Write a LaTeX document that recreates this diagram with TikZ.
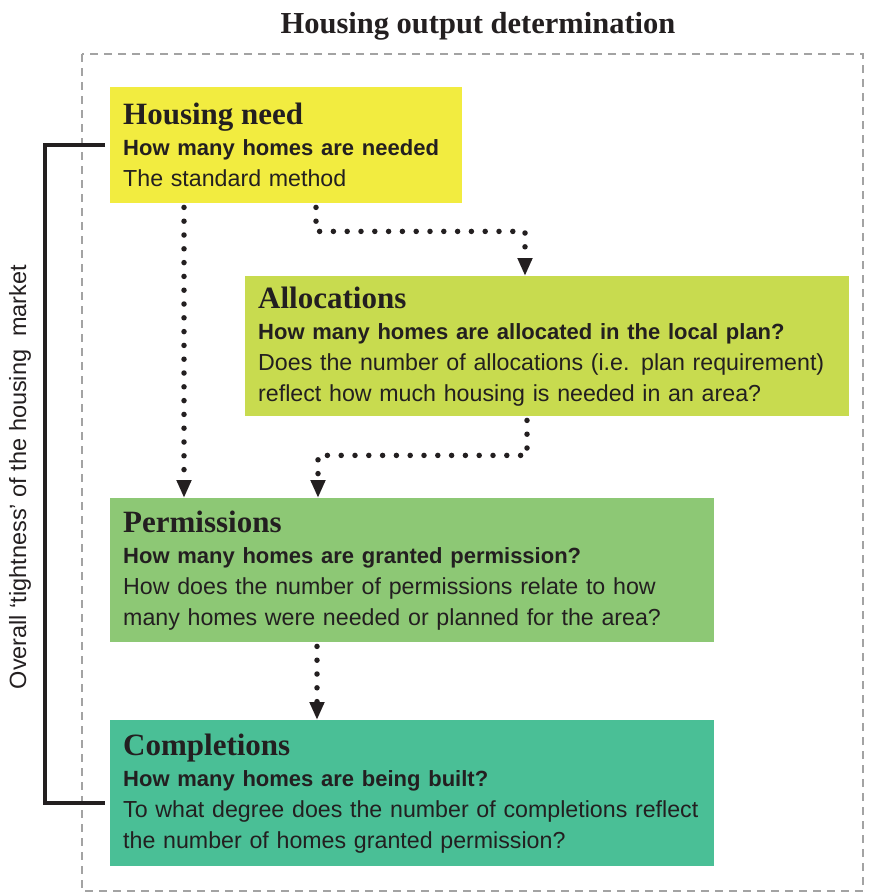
\documentclass[tikz,border=0pt]{standalone}
\usepackage{fontspec}
\setmainfont{Liberation Serif}
\setsansfont{Liberation Sans}
\usetikzlibrary{calc}
\usetikzlibrary{arrows.meta}
\usetikzlibrary{positioning}
\definecolor{ink}{HTML}{231F20}
\definecolor{framegray}{HTML}{A3A3A3}
\definecolor{needcol}{HTML}{F2EC40}
\definecolor{alloccol}{HTML}{C8DB4F}
\definecolor{permcol}{HTML}{8DC875}
\definecolor{donecol}{HTML}{4ABF96}
\newcommand{\stagehead}[1]{{\rmfamily\bfseries\fontsize{31}{31}\selectfont #1}}
\newcommand{\stageq}[1]{{\bfseries\fontsize{22}{31}\selectfont #1}}
\tikzset{
  stage/.style = {rectangle, anchor=north west, inner xsep=13pt, inner ysep=0pt,
    align=left, text=ink, font=\sffamily\fontsize{23.2}{31}\selectfont},
  heading/.style = {text=ink, font=\rmfamily\bfseries\fontsize{30.5}{32}\selectfont},
  flow/.style = {ink, line width=5.5pt, line cap=round, dash pattern=on 0pt off 13.8pt,
    -{Triangle[length=18pt,width=14pt]}},
  bracket/.style = {ink, line width=4.5pt},
  frame/.style = {draw=framegray, line width=2.5pt, dash pattern=on 8pt off 6pt}
}
\begin{document}
\begin{tikzpicture}[x=1pt, y=-1pt]
\useasboundingbox (0,0) rectangle (870,895);

% outer frame and heading
\draw[frame] (82,54) rectangle (863,891);
\node[heading] (title) at (478,26) {Housing output determination};

% stages
\node[stage, fill=needcol, text width=326pt, minimum height=116pt] (need) at (110,87)
  {\stagehead{Housing need}\\ \stageq{How many homes are needed}\\ The standard method};
\node[stage, fill=alloccol, text width=578pt, minimum height=140pt] (alloc) at (245,276)
  {\stagehead{Allocations}\\ \stageq{How many homes are allocated in the local plan?}\\
   Does the number of allocations (i.e. plan requirement)\\
   reflect how much housing is needed in an area?};
\node[stage, fill=permcol, text width=578pt, minimum height=144pt] (perm) at (110,498)
  {\stagehead{Permissions}\\ \stageq{How many homes are granted permission?}\\
   How does the number of permissions relate to how\\
   many homes were needed or planned for the area?};
\node[stage, fill=donecol, text width=578pt, minimum height=146pt] (done) at (110,720)
  {\stagehead{Completions}\\ \stageq{How many homes are being built?}\\
   To what degree does the number of completions reflect\\
   the number of homes granted permission?};

% dotted links
\draw[flow] ($(need.south west)+(74,4)$) coordinate (n1) -- (n1 |- perm.north);
\draw[flow] ($(need.south west)+(206,4)$) -- ++(0,24) -| ($(alloc.north west)+(280,0)$);
\draw[flow] ($(alloc.south west)+(282,4)$) -- ++(0,35) -| ($(perm.north west)+(208,0)$);
\draw[flow] ($(perm.south west)+(207,4)$) coordinate (p1) -- (p1 |- done.north);

% bracket and its label
\draw[bracket] ($(need.west)+(-5,0)$) -- ++(-60,0) |- ($(done.west)+(-5,10)$);
\node[rotate=90, text=ink, font=\sffamily\fontsize{23.5}{24}\selectfont] (tight) at (20,477)
  {Overall ‘tightness’ of the housing\ \ market};
\end{tikzpicture}
\end{document}
